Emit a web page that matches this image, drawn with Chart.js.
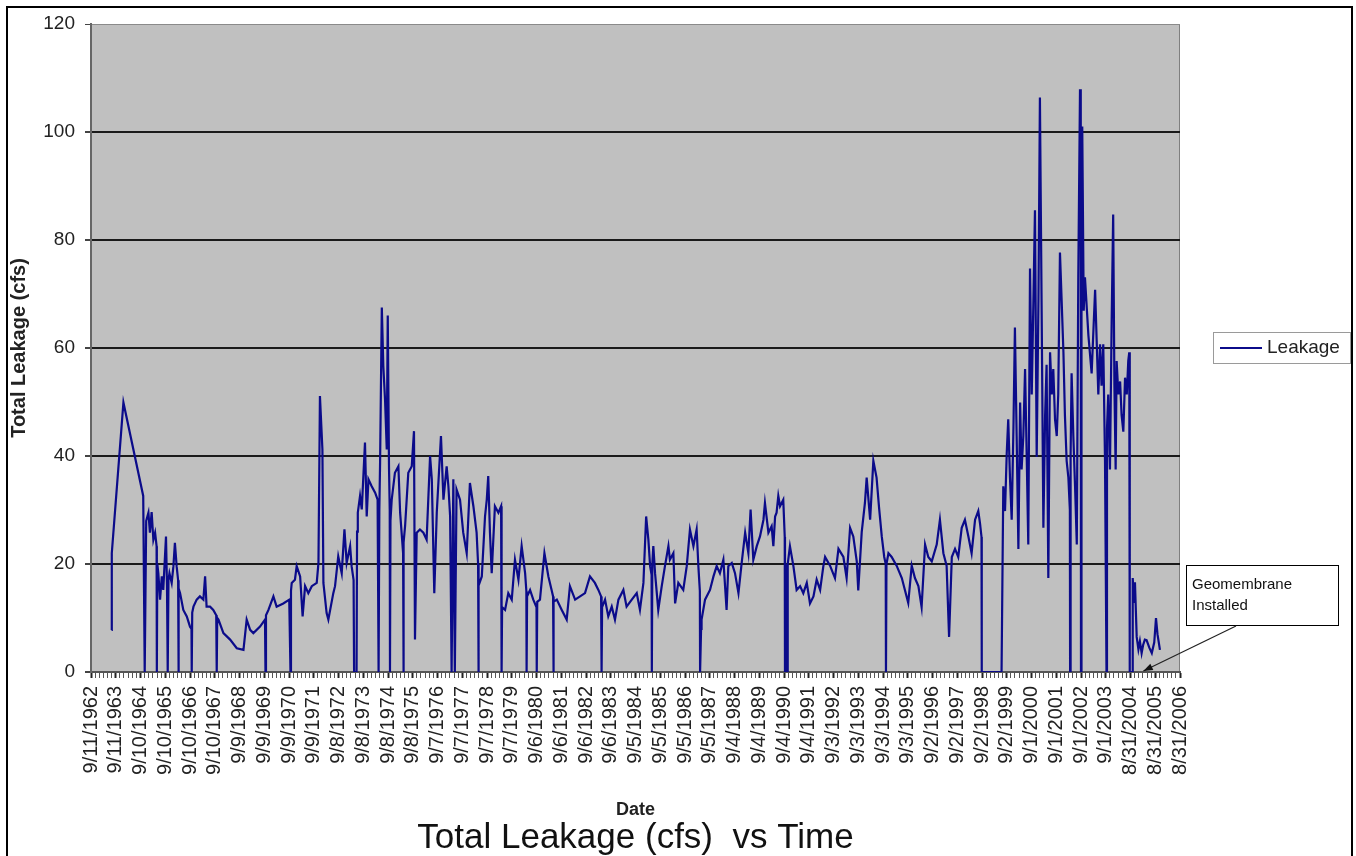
<!DOCTYPE html>
<html>
<head>
<meta charset="utf-8">
<script src="https://cdn.jsdelivr.net/npm/chart.js@4.4.1/dist/chart.umd.min.js"></script>
<style>
  html, body { margin: 0; padding: 0; background: #fff; }
  #wrap { position: relative; width: 1356px; height: 856px; overflow: hidden; }
  #frame { position: absolute; left: 6px; top: 6px; width: 1343px; height: 900px; border: 2px solid #000; pointer-events: none; }
  canvas { position: absolute; left: 0; top: 0; }
</style>
</head>
<body>
<div id="wrap">
  <canvas id="chart" width="1356" height="856"></canvas>
  <div id="frame"></div>
</div>
<script>
// Tick labels of the category axis (one per year, as Excel printed them).
const tickLabels = ['9/11/1962','9/11/1963','9/10/1964','9/10/1965','9/10/1966','9/10/1967','9/9/1968','9/9/1969',
  '9/9/1970','9/9/1971','9/8/1972','9/8/1973','9/8/1974','9/8/1975','9/7/1976','9/7/1977','9/7/1978','9/7/1979',
  '9/6/1980','9/6/1981','9/6/1982','9/6/1983','9/5/1984','9/5/1985','9/5/1986','9/5/1987','9/4/1988','9/4/1989',
  '9/4/1990','9/4/1991','9/3/1992','9/3/1993','9/3/1994','9/3/1995','9/2/1996','9/2/1997','9/2/1998','9/2/1999',
  '9/1/2000','9/1/2001','9/1/2002','9/1/2003','8/31/2004','8/31/2005','8/31/2006'];
const firstTick = 1962.69;     // 9/11/1962 as a decimal year
const minorPerYear = 6;

// Leakage readings (decimal year, cfs).
const years = [
  1963.52,1963.53,1964.00,1964.80,1964.86,1964.92,1965.01,1965.07,1965.14,1965.21,1965.28,1965.34,1965.35,1965.37,
  1965.41,1965.48,1965.55,1965.61,1965.72,1965.76,1965.79,1965.82,1965.86,1965.95,1966.02,1966.08,1966.15,1966.21,
  1966.22,1966.24,1966.29,1966.42,1966.56,1966.69,1966.75,1966.76,1966.78,1966.83,1966.96,1967.09,1967.23,1967.30,
  1967.36,1967.50,1967.63,1967.75,1967.77,1967.79,1967.84,1968.04,1968.31,1968.58,1968.85,1968.98,1969.12,1969.25,
  1969.52,1969.72,1969.74,1969.76,1969.86,1970.06,1970.19,1970.46,1970.70,1970.75,1970.77,1970.80,1970.93,1971.00,
  1971.14,1971.24,1971.34,1971.47,1971.61,1971.81,1971.88,1971.94,1972.04,1972.08,1972.21,1972.28,1972.48,
  // 1972 - 1982
  1972.55,1972.68,1972.82,1972.93,1973.02,1973.16,1973.22,1973.30,1973.32,1973.42,1973.44,1973.47,1973.56,1973.63,
  1973.76,1973.83,1973.90,1974.03,1974.17,1974.27,1974.31,1974.34,1974.37,1974.44,1974.50,1974.57,1974.64,1974.68,
  1974.73,1974.76,1974.77,1974.79,1974.84,1974.97,1975.11,1975.18,1975.24,1975.30,1975.31,1975.33,1975.38,1975.51,
  1975.65,1975.74,1975.78,1975.85,1975.98,1976.12,1976.25,1976.39,1976.46,1976.56,1976.66,1976.83,1976.93,1977.06,
  1977.13,1977.20,1977.26,1977.33,1977.39,1977.46,1977.60,1977.73,1977.87,1978.00,1978.14,1978.27,1978.33,1978.34,
  1978.36,1978.48,1978.61,1978.68,1978.74,1978.81,1978.88,1979.01,1979.15,1979.26,1979.28,1979.30,1979.42,1979.55,
  1979.69,1979.82,1979.96,1980.09,1980.23,1980.28,1980.29,1980.31,1980.43,1980.56,1980.69,1980.70,1980.72,1980.83,
  1981.01,1981.17,1981.30,1981.36,1981.37,1981.39,1981.51,1981.71,1981.91,1982.04,1982.25,1982.45,
  // 1982 - 1992
  1982.65,1982.85,1983.05,1983.19,1983.30,1983.32,1983.34,1983.46,1983.59,1983.73,1983.86,1984.00,1984.20,1984.33,
  1984.54,1984.74,1984.87,1985.01,1985.12,1985.21,1985.28,1985.34,1985.35,1985.37,1985.41,1985.48,1985.61,1985.75,
  1985.88,1986.02,1986.08,1986.22,1986.29,1986.42,1986.62,1986.76,1986.89,1987.03,1987.16,1987.23,1987.29,1987.30,
  1987.34,1987.36,1987.50,1987.70,1987.84,1987.97,1988.10,1988.24,1988.37,1988.44,1988.58,1988.71,1988.85,1988.98,
  1989.12,1989.25,1989.34,1989.45,1989.59,1989.72,1989.86,1989.92,1990.06,1990.19,1990.26,1990.33,1990.39,1990.46,
  1990.53,1990.66,1990.72,1990.73,1990.76,1990.82,1990.84,1990.93,1991.07,1991.20,1991.34,1991.47,1991.61,1991.74,
  1991.88,1992.01,1992.15,1992.28,
  // 1992 - 1999
  1992.35,1992.55,1992.75,1992.89,1993.09,1993.22,1993.36,1993.49,1993.63,1993.69,1993.83,1993.96,1994.03,1994.17,
  1994.30,1994.43,1994.53,1994.64,1994.74,1994.80,1994.81,1994.83,1994.91,1995.04,1995.24,1995.45,1995.58,1995.71,
  1995.85,1995.98,1996.12,1996.25,1996.39,1996.52,1996.66,1996.86,1996.99,1997.13,1997.26,1997.36,1997.47,1997.60,
  1997.73,1997.87,1998.00,1998.14,1998.27,1998.41,1998.54,1998.61,1998.67,1998.68,1999.48,
  // 1999 - 2003
  1999.55,1999.62,1999.69,1999.75,1999.82,1999.89,1999.96,2000.02,2000.09,2000.16,2000.23,2000.29,2000.36,2000.43,
  2000.50,2000.56,2000.63,2000.70,2000.76,2000.83,2000.90,2000.97,2001.03,2001.10,2001.17,2001.24,2001.30,2001.37,
  2001.44,2001.51,2001.57,2001.64,2001.71,2001.77,2001.84,2001.91,2001.98,2002.04,2002.11,2002.18,2002.24,2002.25,
  2002.27,2002.31,2002.38,2002.45,2002.52,2002.58,2002.65,2002.68,2002.69,2002.71,2002.74,2002.80,2002.85,2002.99,
  2003.12,2003.26,2003.39,2003.46,
  // 2003 - 2006
  2003.52,2003.59,2003.66,2003.72,2003.74,2003.79,2003.86,2003.93,2003.99,2004.04,2004.09,2004.13,2004.20,2004.27,
  2004.33,2004.40,2004.47,2004.54,2004.60,2004.64,2004.66,2004.76,2004.78,2004.83,2004.87,2004.94,2005.01,2005.07,
  2005.14,2005.20,2005.27,2005.34,2005.45,2005.55,2005.65,2005.72,2005.78,2005.88
];
const leakage = [
  7.8,22.0,49.9,32.6,0,28.0,29.5,25.8,29.6,24.5,25.8,23.3,0,20.0,
  18.3,13.4,17.7,15.2,25.1,16.0,0,17.0,18.3,16.5,19.6,23.9,19.6,17.0,
  0,15.5,14.6,11.5,10.3,8.4,8.0,0,11.0,12.1,13.4,14.0,13.4,17.7,
  12.1,12.1,11.5,10.5,0,10.0,9.7,7.2,6.0,4.4,4.1,9.7,7.8,7.2,
  8.4,9.7,0,10.5,11.5,14.0,12.1,12.7,13.4,0,15.0,16.5,17.1,19.6,
  17.7,10.3,15.9,14.6,15.9,16.5,20.2,51.1,41.2,16.5,10.9,9.7,14.6,
  // 1972 - 1982
  15.9,21.4,18.3,26.4,20.2,23.3,19.6,17.0,0,0,26.0,29.5,32.6,30.1,
  42.5,28.8,35.7,34.4,33.2,31.9,0,30.0,38.7,67.5,56.7,50.5,41.2,66.0,
  38.1,30.0,0,28.0,31.9,36.9,38.1,29.5,25.8,22.0,0,24.0,27.0,36.9,
  38.1,44.6,6.0,25.8,26.4,25.8,24.5,40.0,35.7,14.6,29.5,43.7,31.9,38.1,
  34.4,28.8,0,35.7,0,33.8,31.9,25.8,22.0,35.0,30.7,25.8,20.0,0,
  16.0,17.7,28.8,31.9,36.3,25.8,18.3,30.7,29.5,30.7,0,12.0,11.5,14.6,
  13.4,20.8,17.1,23.3,18.3,15.0,0,14.0,15.2,13.4,12.0,0,13.0,13.4,
  22.0,17.7,15.2,14.0,0,13.0,13.4,11.5,9.7,15.9,13.4,14.0,
  // 1982 - 1992
  14.6,17.7,16.5,15.2,14.0,0,12.0,13.4,10.3,12.1,9.7,13.4,15.2,12.1,
  13.4,14.6,11.5,16.5,28.8,24.5,19.6,18.0,0,20.0,23.3,18.3,11.5,15.9,
  19.6,23.3,20.8,22.0,12.7,16.5,15.2,19.6,26.4,23.3,26.4,19.6,15.0,0,
  8.0,9.7,13.4,15.2,17.7,19.6,18.3,20.8,11.5,19.6,20.2,18.3,14.6,20.2,
  25.8,22.0,30.1,20.8,23.3,25.1,28.2,31.3,25.8,27.0,23.3,28.8,29.5,32.6,
  30.7,31.9,25.0,0,20.0,0,20.0,23.3,19.6,15.2,15.9,14.6,16.5,12.7,
  14.0,17.1,15.2,19.6,
  // 1992 - 1999
  21.3,19.7,17.4,22.8,21.3,17.4,26.7,25.1,20.5,15.1,25.9,31.3,36.0,28.2,
  39.1,36.0,30.5,25.1,21.3,20.0,0,20.0,22.0,21.3,19.7,17.4,15.1,12.8,
  19.7,17.4,15.9,12.0,23.6,21.3,20.5,23.6,28.2,22.0,19.7,6.5,21.3,22.8,
  21.3,26.7,28.2,25.1,22.0,28.2,29.8,27.5,25.0,0,0,
  // 1999 - 2003
  34.4,29.8,40.6,46.8,36.0,28.2,45.2,63.8,43.7,22.8,49.9,37.5,43.7,56.1,
  39.1,23.6,74.7,51.4,66.9,85.5,39.8,68.5,106.4,66.9,26.7,47.6,56.9,17.4,
  59.2,51.4,56.1,46.8,43.7,51.4,77.7,68.5,59.2,47.6,39.1,36.0,30.0,0,
  40.0,55.3,43.7,34.4,23.6,73.1,107.9,90.0,0,90.0,101.0,66.9,73.1,62.3,
  55.3,70.8,51.4,60.7,
  // 2003 - 2006
  53.0,60.7,39.1,0,45.0,51.4,37.5,65.4,84.7,53.0,37.5,57.6,51.4,53.8,
  47.6,44.5,54.5,51.4,57.6,59.2,0,0,17.4,12.8,16.6,6.5,4.2,5.7,
  3.5,5.0,6.0,5.9,4.5,3.5,5.5,10.0,7.0,4.1
];

const noteLines = ['Geomembrane', 'Installed'];
const noteTarget = { year: 2005.21, value: 0 };

const FONT = '"Liberation Sans", Arial, sans-serif';
const LINE = '#0b0b8a';
Chart.defaults.font.family = FONT;
Chart.defaults.color = '#222';

const plotBackground = {
  id: 'plotBackground',
  beforeDraw(chart) {
    const { ctx, chartArea: a } = chart;
    ctx.save();
    ctx.fillStyle = '#c0c0c0';
    ctx.fillRect(a.left, a.top, a.width, a.height);
    ctx.strokeStyle = '#808080';
    ctx.lineWidth = 1;
    ctx.strokeRect(a.left + 0.5, a.top + 0.5, a.width - 1, a.height);
    ctx.restore();
  }
};

// Legend box on the right and the "Geomembrane Installed" callout.
const sideNotes = {
  id: 'sideNotes',
  afterDraw(chart) {
    const { ctx } = chart;
    const ds = chart.data.datasets[0];
    ctx.save();
    ctx.fillStyle = '#fff';
    ctx.fillRect(1213, 332, 137, 31);
    ctx.strokeStyle = '#9a9a9a';
    ctx.lineWidth = 1;
    ctx.strokeRect(1213.5, 332.5, 137, 31);
    ctx.strokeStyle = ds.borderColor;
    ctx.lineWidth = 2;
    ctx.beginPath(); ctx.moveTo(1220, 348); ctx.lineTo(1262, 348); ctx.stroke();
    ctx.fillStyle = '#222';
    ctx.font = '19px ' + FONT;
    ctx.textAlign = 'left';
    ctx.textBaseline = 'middle';
    ctx.fillText(ds.label, 1267, 348);

    ctx.fillStyle = '#fff';
    ctx.fillRect(1186, 565, 152, 60);
    ctx.strokeStyle = '#000';
    ctx.lineWidth = 1;
    ctx.strokeRect(1186.5, 565.5, 152, 60);
    ctx.fillStyle = '#111';
    ctx.font = '15px ' + FONT;
    noteLines.forEach((t, i) => ctx.fillText(t, 1192, 585 + i * 21));

    const tx = chart.scales.x.getPixelForValue(noteTarget.year);
    const ty = chart.scales.y.getPixelForValue(noteTarget.value) - 1;
    const sx = 1236, sy = 626;
    const ang = Math.atan2(ty - sy, tx - sx);
    ctx.strokeStyle = '#222';
    ctx.lineWidth = 1.2;
    ctx.beginPath(); ctx.moveTo(sx, sy); ctx.lineTo(tx, ty); ctx.stroke();
    ctx.fillStyle = '#111';
    ctx.beginPath();
    ctx.moveTo(tx, ty);
    ctx.lineTo(tx - 10 * Math.cos(ang - 0.35), ty - 10 * Math.sin(ang - 0.35));
    ctx.lineTo(tx - 10 * Math.cos(ang + 0.35), ty - 10 * Math.sin(ang + 0.35));
    ctx.closePath(); ctx.fill();
    ctx.restore();
  }
};

new Chart(document.getElementById('chart'), {
  type: 'line',
  data: {
    datasets: [{
      label: 'Leakage',
      data: years.map((y, i) => ({ x: y, y: leakage[i] })),
      borderColor: LINE,
      borderWidth: 2.2,
      pointRadius: 0,
      tension: 0,
      fill: false
    }]
  },
  options: {
    responsive: false,
    animation: false,
    layout: { padding: { left: 0, top: 24, right: 176, bottom: 0 } },
    plugins: {
      legend: { display: false },
      tooltip: { enabled: false },
      title: {
        display: true, position: 'bottom', fullSize: false,
        text: 'Total Leakage (cfs)  vs Time',
        color: '#111', padding: 0,
        font: { size: 35, weight: 'normal', lineHeight: 1 }
      }
    },
    scales: {
      x: {
        type: 'linear',
        min: firstTick,
        max: firstTick + tickLabels.length - 1,
        afterBuildTicks(scale) {
          const n = (tickLabels.length - 1) * minorPerYear;
          scale.ticks = [];
          for (let k = 0; k <= n; k++) scale.ticks.push({ value: firstTick + k / minorPerYear });
        },
        afterFit(scale) { scale.height = 149; },
        ticks: {
          autoSkip: false, minRotation: 90, maxRotation: 90, padding: 8,
          color: '#222', font: { size: 20 },
          callback: (v, i) => (i % minorPerYear === 0 ? tickLabels[i / minorPerYear] : '')
        },
        grid: {
          drawOnChartArea: false, drawTicks: true, tickLength: 6,
          tickColor: c => (c.index % minorPerYear === 0 ? '#222' : '#555'),
          tickWidth: c => (c.index % minorPerYear === 0 ? 2 : 1)
        },
        border: { display: true, color: '#555', width: 2 },
        title: { display: true, text: 'Date', color: '#222', padding: 0, font: { size: 18, weight: 'bold' } }
      },
      y: {
        min: 0, max: 120,
        afterFit(scale) { scale.width = 91; },
        ticks: { stepSize: 20, padding: 10, color: '#222', font: { size: 19 } },
        grid: {
          tickLength: 6, tickColor: '#444',
          color: c => (c.tick.value === 120 ? '#8a8a8a' : c.tick.value === 0 ? '#555' : '#1a1a1a'),
          lineWidth: c => (c.tick.value === 120 ? 1 : 2)
        },
        border: { display: true, color: '#666', width: 2 },
        title: {
          display: true, text: 'Total Leakage (cfs)', color: '#222',
          padding: { top: 7, bottom: 0 }, font: { size: 20, weight: 'bold' }
        }
      }
    }
  },
  plugins: [plotBackground, sideNotes]
});
</script>
</body>
</html>
